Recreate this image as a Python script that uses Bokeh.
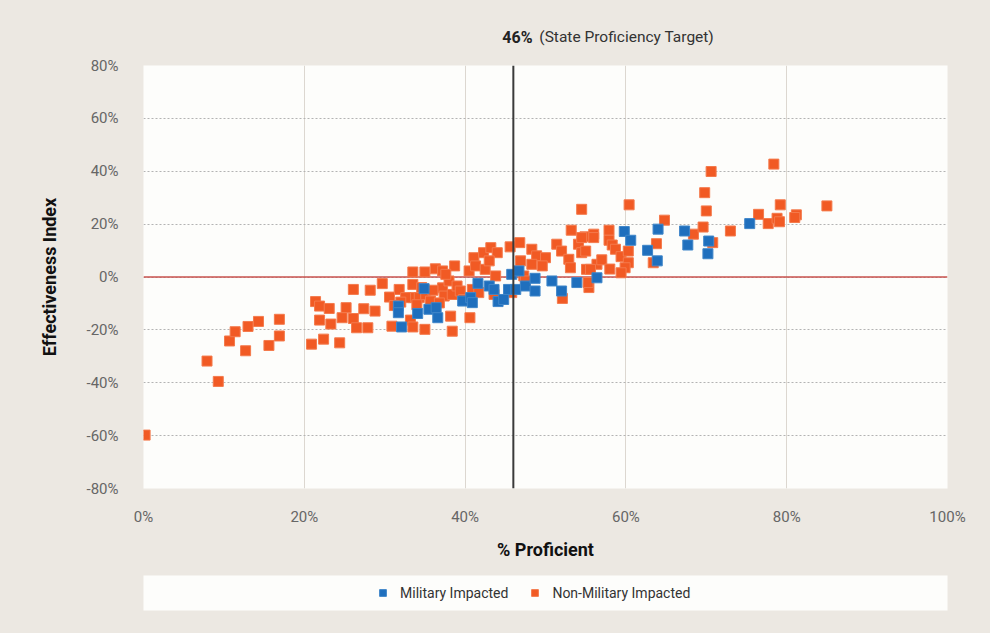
from bokeh.plotting import figure
from bokeh.layouts import column
from bokeh.models import (Span, Label, Legend, LegendItem,
                          FixedTicker, PrintfTickFormatter, ColumnDataSource)
from bokeh.embed import file_html
from bokeh.resources import INLINE

# ---- data ----
mil_x = [34.9, 31.7, 31.7, 34.1, 35.5, 36.4, 36.6, 32.1, 39.7, 40.7, 40.9, 41.6, 43.0,
         43.6, 44.1, 44.8, 45.4, 46.3, 45.8, 46.7, 47.5, 48.7, 48.7, 50.8, 52.0, 53.9, 56.4,
         59.8, 60.6, 64.0, 62.7, 63.9, 67.3, 67.7, 70.3, 70.2, 75.4]
mil_y = [-4.4, -11.0, -13.5, -13.8, -12.2, -11.6, -15.4, -18.9, -9.1, -7.8, -9.7, -2.4, -3.4,
         -4.7, -9.3, -8.5, -4.7, -4.7, 1.0, 2.3, -3.4, -0.5, -5.3, -1.5, -5.3, -2.1, -0.3,
         17.2, 13.9, 18.1, 10.1, 6.1, 17.4, 12.1, 13.6, 8.8, 20.2]

non_x = [0.2, 7.9, 9.3, 10.7, 11.4, 12.7, 13.0, 14.3, 15.6, 16.9, 16.9, 20.9, 22.4, 21.4, 21.9,
         21.9, 23.1, 23.3,
         33.5, 35.0, 36.3, 37.2, 29.7, 26.1, 28.2, 31.8, 33.5, 30.6, 25.2, 27.4, 28.8, 24.7,
         26.1, 26.5, 27.9, 30.9, 33.2, 33.5, 35.0, 24.4, 38.2, 38.4,
         38.7, 40.5, 41.1, 42.3, 41.3, 42.5, 43.2, 33.5, 32.6, 34.3, 35.1, 35.7, 37.2, 37.4,
         38.0, 38.4, 39.0, 39.4, 40.9, 41.7, 40.6,
         34.0, 36.0, 36.8, 32.0, 34.6, 39.8, 31.2, 37.6, 46.9, 55.4,
         44.0, 43.0, 45.6, 46.8, 48.3, 48.9, 50.0, 48.3, 49.6, 51.4, 52.0, 53.2, 54.9, 56.0,
         54.1, 54.5, 52.9, 53.1, 55.1, 56.4, 43.8, 47.3, 47.5, 43.6, 45.8, 52.1, 55.3,
         60.4, 64.8, 56.0, 57.9, 57.9, 58.3, 58.7, 59.4, 60.3, 60.3, 59.9, 59.4, 63.8, 63.4,
         68.4, 69.8, 70.0, 69.6, 54.5, 54.5, 55.0, 55.6, 57.0, 58.0,
         70.6, 78.4, 73.0, 76.5, 77.7, 78.8, 79.1, 79.2, 81.2, 81.0, 85.0, 70.8]
non_y = [-59.8, -31.8, -39.5, -24.2, -20.7, -27.9, -18.7, -16.8, -25.9, -16.0, -22.3, -25.4, -23.5,
         -9.3, -11.0, -16.3, -11.9, -17.8,
         1.9, 1.9, 3.1, 2.3, -2.5, -4.7, -5.0, -4.7, -2.8, -7.6, -11.6, -12.0, -12.9, -15.4,
         -15.7, -19.2, -19.2, -18.6, -16.3, -18.9, -19.8, -24.9, -14.8, -20.5,
         4.2, 2.3, 7.3, 9.2, 4.2, 2.9, 11.1, -7.8, -7.8, -7.8, -6.6, -9.1, -4.1, -7.2,
         -1.5, -6.6, -3.4, -5.3, -4.7, -5.9, -15.4,
         -10.5, -5.0, -9.8, -9.5, -4.0, -8.5, -10.8, 1.0, 6.1, -4.0,
         9.2, 6.1, 11.4, 13.0, 10.5, 8.0, 7.3, 4.8, 4.2, 12.4, 9.8, 17.7, 15.2, 16.2,
         12.4, 9.2, 6.7, 3.5, 2.9, 4.8, 0.4, 0.4, -1.5, -6.6, -5.9, -8.1, -2.1,
         27.3, 21.5, 14.9, 17.7, 13.9, 12.1, 10.5, 7.7, 9.8, 5.4, 3.5, 1.6, 12.6, 5.4,
         16.2, 31.9, 25.0, 18.9, 25.6, 14.9, 9.8, 2.9, 6.5, 3.0,
         39.9, 42.7, 17.4, 23.7, 20.2, 22.2, 20.9, 27.3, 23.5, 22.5, 26.9, 13.0]

x_ticks = [0, 20, 40, 60, 80, 100]
y_ticks = [-80, -60, -40, -20, 0, 20, 40, 60, 80]
target = 46
target_value_text = "46%"
target_text = "(State Proficiency Target)"
series_names = ["Military Impacted", "Non-Military Impacted"]

BLUE = "#1f6fbd"
ORANGE = "#f15a24"
FONT = "Roboto"
BG = "#ece8e2"
WHITE = "#fdfdfb"
W = 990

# ---------------- top strip (target label) ----------------
p0 = figure(width=W, height=52, output_backend="svg", toolbar_location=None,
            x_range=(0, 100), y_range=(0, 1), x_axis_type=None, y_axis_type=None,
            min_border_left=140, min_border_right=43, min_border_top=0, min_border_bottom=0)
p0.background_fill_color = BG
p0.border_fill_color = BG
p0.outline_line_color = None
p0.grid.visible = False
p0.add_layout(Label(x=target, y=0.29, text=target_value_text,
                    x_offset=-11, text_align="left", text_baseline="middle",
                    text_font=FONT, text_font_size="16px", text_font_style="bold",
                    text_color="#222222"))
p0.add_layout(Label(x=target, y=0.29, text=target_text,
                    x_offset=26, text_align="left", text_baseline="middle",
                    text_font=FONT, text_font_size="15.5px", text_color="#333333"))

# ---------------- main chart ----------------
p = figure(width=W, height=520, output_backend="svg", toolbar_location=None,
           x_range=p0.x_range, y_range=(-80, 80),
           min_border_left=140, min_border_right=43, min_border_top=13, min_border_bottom=84)
p.title.visible = False
p.background_fill_color = WHITE
p.border_fill_color = BG
p.outline_line_color = None

for ax in (p.xaxis[0], p.yaxis[0]):
    ax.axis_line_color = None
    ax.major_tick_line_color = None
    ax.minor_tick_line_color = None
    ax.major_label_text_font = FONT
    ax.major_label_text_font_size = "15px"
    ax.major_label_text_color = "#666666"
    ax.axis_label_text_font = FONT
    ax.axis_label_text_font_size = "18px"
    ax.axis_label_text_font_style = "bold"
    ax.axis_label_text_color = "#111111"
    ax.formatter = PrintfTickFormatter(format="%d%%")
p.xaxis.ticker = FixedTicker(ticks=x_ticks)
p.yaxis.ticker = FixedTicker(ticks=y_ticks)
p.xaxis.axis_label = "% Proficient"
p.yaxis.axis_label = "Effectiveness Index"
p.xaxis.major_label_standoff = 13
p.yaxis.major_label_standoff = 19
p.xaxis.axis_label_standoff = 10
p.yaxis.axis_label_standoff = 24

p.xgrid.grid_line_color = "#dcd7d0"
p.xgrid.grid_line_width = 1
p.ygrid.grid_line_color = "#b3b3b3"
p.ygrid.grid_line_dash = "2 2"
p.ygrid.grid_line_width = 1

p.add_layout(Span(location=0, dimension="width", line_color="#c9524e", line_width=1.5,
                  level="underlay"))

src_o = ColumnDataSource(dict(x=non_x, y=non_y))
src_b = ColumnDataSource(dict(x=mil_x, y=mil_y))
ro = p.scatter("x", "y", source=src_o, marker="square", size=10,
               fill_color=ORANGE, line_color="#f47a4c", line_width=1)
rb = p.scatter("x", "y", source=src_b, marker="square", size=10,
               fill_color=BLUE, line_color="#3f86c9", line_width=1)

p.add_layout(Span(location=target, dimension="height", line_color="#3a3a3a", line_width=2))

# ---------------- legend strip ----------------
p2 = figure(width=W, height=61, output_backend="svg", toolbar_location=None,
            x_range=(1000, 1001), y_range=(1000, 1001), x_axis_type=None, y_axis_type=None,
            min_border_left=143, min_border_right=43, min_border_top=3, min_border_bottom=23)
p2.background_fill_color = WHITE
p2.border_fill_color = BG
p2.outline_line_color = None
p2.grid.visible = False
lb = p2.scatter("x", "y", source=src_b, marker="square", size=10,
                fill_color=BLUE, line_color="#3f86c9", line_width=1)
lo = p2.scatter("x", "y", source=src_o, marker="square", size=10,
                fill_color=ORANGE, line_color="#f47a4c", line_width=1)
legend = Legend(items=[LegendItem(label=series_names[0], renderers=[lb]),
                       LegendItem(label=series_names[1], renderers=[lo])],
                orientation="horizontal", location=(231, 9),
                background_fill_alpha=0, border_line_color=None,
                padding=0, margin=0, spacing=18, label_standoff=9,
                glyph_width=17, glyph_height=17,
                label_text_font=FONT, label_text_font_size="14px",
                label_text_color="#333333")
p2.add_layout(legend)

layout = column(p0, p, p2, spacing=0, styles={"background-color": BG})
open("out.html", "w").write(file_html(layout, INLINE))
